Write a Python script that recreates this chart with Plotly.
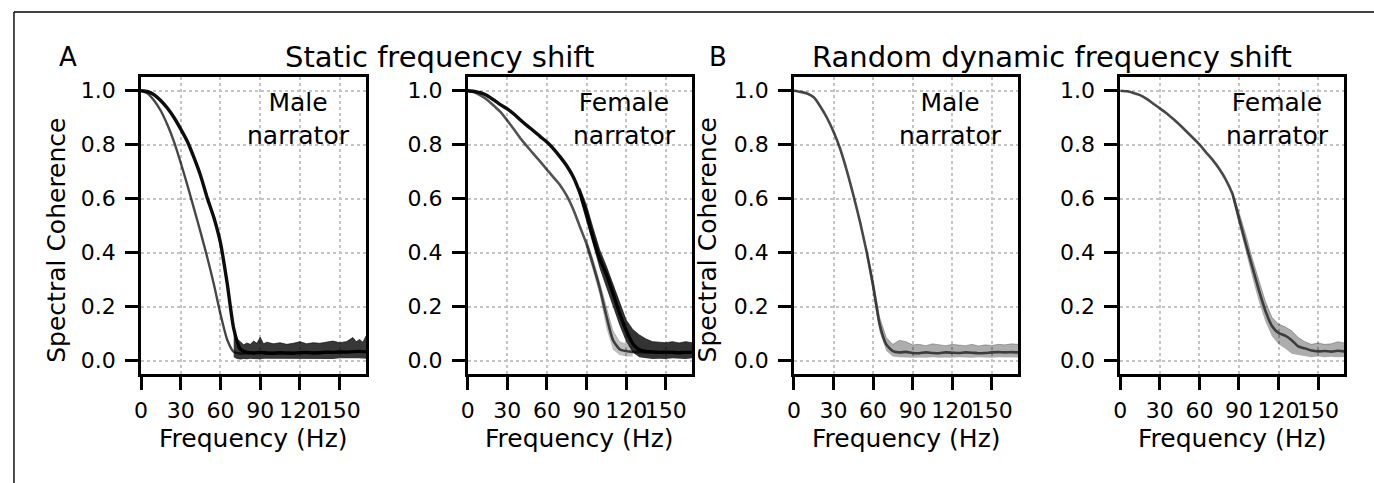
import plotly.graph_objects as go

# ---------------- data ----------------
freq = [0, 5, 10, 15, 20, 25, 30, 35, 40, 45, 50, 55, 60, 65, 70, 75, 80, 85,
        90, 95, 100, 105, 110, 115, 120, 125, 130, 135, 140, 145, 150, 155, 160, 165, 170]

# Panel A, male narrator (static shift): two bundles of curves
static_male_upper = [1.000, 0.997, 0.985, 0.963, 0.935, 0.900, 0.858, 0.812, 0.752, 0.685, 0.603, 0.530,
                     0.436, 0.288, 0.118, 0.042, 0.030, 0.028, 0.030, 0.028, 0.027, 0.029, 0.028, 0.027,
                     0.029, 0.030, 0.028, 0.029, 0.031, 0.030, 0.032, 0.031, 0.033, 0.034, 0.033]
static_male_lower = [1.000, 0.990, 0.963, 0.925, 0.873, 0.810, 0.733, 0.650, 0.563, 0.475, 0.383, 0.283,
                     0.172, 0.078, 0.032, 0.026, 0.027, 0.028, 0.029, 0.027, 0.028, 0.028, 0.027, 0.028,
                     0.029, 0.028, 0.029, 0.030, 0.029, 0.031, 0.030, 0.032, 0.032, 0.033, 0.032]
static_male_band_f = [70, 72.5, 75, 77.5, 80, 82.5, 85, 87.5, 90, 92.5, 95, 100, 105, 110, 115, 120, 125,
                      130, 135, 140, 145, 150, 155, 160, 162.5, 165, 167.5, 170]
static_male_band_hi = [0.110, 0.080, 0.070, 0.058, 0.065, 0.060, 0.072, 0.064, 0.086, 0.062, 0.068, 0.062,
                       0.066, 0.060, 0.064, 0.070, 0.062, 0.066, 0.064, 0.068, 0.072, 0.066, 0.070, 0.085,
                       0.070, 0.078, 0.068, 0.092]
static_male_band_lo = [0.012, 0.006, 0.004, 0.006, 0.005, 0.007, 0.006, 0.005, 0.005, 0.007, 0.007, 0.006,
                       0.005, 0.007, 0.006, 0.006, 0.007, 0.005, 0.006, 0.007, 0.006, 0.008, 0.007, 0.006,
                       0.008, 0.008, 0.007, 0.007]

# Panel A, female narrator (static shift)
static_female_upper = [1.000, 0.998, 0.992, 0.982, 0.965, 0.948, 0.933, 0.914, 0.892, 0.871, 0.851, 0.830,
                       0.810, 0.785, 0.755, 0.722, 0.680, 0.620, 0.545, 0.455, 0.378, 0.320, 0.250, 0.176,
                       0.112, 0.062, 0.040, 0.034, 0.032, 0.030, 0.031, 0.030, 0.029, 0.030, 0.030]
static_female_lower = [1.000, 0.994, 0.982, 0.966, 0.944, 0.921, 0.890, 0.857, 0.823, 0.794, 0.765, 0.737,
                       0.708, 0.679, 0.650, 0.611, 0.560, 0.496, 0.432, 0.354, 0.268, 0.166, 0.076, 0.042,
                       0.035, 0.032, 0.031, 0.030, 0.031, 0.029, 0.030, 0.031, 0.030, 0.029, 0.031]
static_female_band_f = [85, 90, 95, 100, 105, 110, 115, 120, 125, 130, 135, 140, 145, 150, 155, 160, 165, 170]
static_female_band_hi = [0.640, 0.575, 0.490, 0.410, 0.350, 0.285, 0.215, 0.150, 0.115, 0.095, 0.080, 0.070,
                         0.068, 0.066, 0.070, 0.065, 0.070, 0.066]
static_female_band_lo = [0.600, 0.510, 0.420, 0.340, 0.270, 0.200, 0.130, 0.070, 0.030, 0.012, 0.008, 0.006,
                         0.007, 0.006, 0.008, 0.007, 0.006, 0.008]
static_female_lowband_f = [90, 95, 100, 105, 110, 115, 120, 125]
static_female_lowband_hi = [0.450, 0.375, 0.290, 0.195, 0.110, 0.070, 0.060, 0.050]
static_female_lowband_lo = [0.410, 0.330, 0.240, 0.120, 0.040, 0.020, 0.015, 0.015]

# Panel B, male narrator (random dynamic shift)
dynamic_male = [1.000, 0.996, 0.990, 0.976, 0.942, 0.900, 0.848, 0.785, 0.705, 0.614, 0.516, 0.405,
                0.278, 0.133, 0.060, 0.035, 0.030, 0.032, 0.028, 0.027, 0.030, 0.028, 0.027, 0.030,
                0.029, 0.028, 0.030, 0.029, 0.027, 0.028, 0.030, 0.031, 0.030, 0.031, 0.030]
dynamic_male_band_f = [55, 60, 65, 70, 75, 80, 85, 90, 95, 100, 105, 110, 115, 120, 125, 130, 135, 140,
                       145, 150, 155, 160, 165, 170]
dynamic_male_band_hi = [0.420, 0.300, 0.160, 0.085, 0.060, 0.075, 0.070, 0.058, 0.060, 0.055, 0.062, 0.058,
                        0.055, 0.060, 0.057, 0.055, 0.060, 0.054, 0.058, 0.056, 0.060, 0.058, 0.062, 0.060]
dynamic_male_band_lo = [0.390, 0.255, 0.105, 0.035, 0.015, 0.012, 0.010, 0.010, 0.011, 0.010, 0.012, 0.010,
                        0.011, 0.010, 0.012, 0.011, 0.010, 0.012, 0.011, 0.010, 0.012, 0.011, 0.012, 0.011]

# Panel B, female narrator (random dynamic shift)
dynamic_female = [1.000, 0.998, 0.992, 0.984, 0.970, 0.952, 0.935, 0.917, 0.896, 0.874, 0.850, 0.826,
                  0.801, 0.772, 0.744, 0.711, 0.671, 0.618, 0.527, 0.436, 0.349, 0.263, 0.185, 0.128,
                  0.102, 0.092, 0.075, 0.052, 0.045, 0.037, 0.034, 0.035, 0.033, 0.036, 0.034]
dynamic_female_band_f = [85, 90, 95, 100, 105, 110, 115, 120, 125, 130, 135, 140, 145, 150, 155, 160, 165, 170]
dynamic_female_band_hi = [0.630, 0.550, 0.470, 0.380, 0.295, 0.220, 0.160, 0.135, 0.125, 0.110, 0.085, 0.070,
                          0.060, 0.065, 0.060, 0.062, 0.070, 0.065]
dynamic_female_band_lo = [0.600, 0.500, 0.400, 0.310, 0.220, 0.145, 0.090, 0.060, 0.045, 0.025, 0.020, 0.015,
                          0.012, 0.015, 0.012, 0.014, 0.012, 0.013]

x_ticks = [0, 30, 60, 90, 120, 150]
y_ticks = [0.0, 0.2, 0.4, 0.6, 0.8, 1.0]
y_tick_text = ["0.0", "0.2", "0.4", "0.6", "0.8", "1.0"]
panel_notes = ["Male<br>narrator", "Female<br>narrator", "Male<br>narrator", "Female<br>narrator"]
group_titles = ["Static frequency shift", "Random dynamic frequency shift"]
panel_letters = ["A", "B"]
x_title = "Frequency (Hz)"
y_title = "Spectral Coherence"

# ---------------- figure ----------------
W, H = 1374, 483
FONT = "DejaVu Sans"

def px(x):
    return x / W

def py(y):
    return 1 - y / H

fig = go.Figure()

def band(f, lo, hi, ax, color):
    xa, ya = ax
    fig.add_trace(go.Scatter(x=f, y=lo, mode="lines", line=dict(width=0, color=color),
                             xaxis=xa, yaxis=ya, hoverinfo="skip", showlegend=False))
    fig.add_trace(go.Scatter(x=f, y=hi, mode="lines", line=dict(width=0.8, color=color),
                             fill="tonexty", fillcolor=color,
                             xaxis=xa, yaxis=ya, hoverinfo="skip", showlegend=False))

def curve(y, ax, color, width):
    xa, ya = ax
    fig.add_trace(go.Scatter(x=freq, y=y, mode="lines",
                             line=dict(color=color, width=width, shape="spline", smoothing=0.6),
                             xaxis=xa, yaxis=ya, hoverinfo="skip", showlegend=False))

ax1, ax2, ax3, ax4 = ("x", "y"), ("x2", "y2"), ("x3", "y3"), ("x4", "y4")

# Panel 1
band(static_male_band_f, static_male_band_lo, static_male_band_hi, ax1, "rgba(0,0,0,0.78)")
curve(static_male_lower, ax1, "rgba(0,0,0,0.72)", 2.4)
curve(static_male_upper, ax1, "rgba(0,0,0,0.95)", 3.4)

# Panel 2
band(static_female_lowband_f, static_female_lowband_lo, static_female_lowband_hi, ax2, "rgba(0,0,0,0.25)")
band(static_female_band_f, static_female_band_lo, static_female_band_hi, ax2, "rgba(0,0,0,0.8)")
curve(static_female_lower, ax2, "rgba(0,0,0,0.68)", 2.6)
curve(static_female_upper, ax2, "rgba(0,0,0,0.95)", 3.4)

# Panel 3
band(dynamic_male_band_f, dynamic_male_band_lo, dynamic_male_band_hi, ax3, "rgba(0,0,0,0.32)")
curve(dynamic_male, ax3, "rgba(40,40,40,0.85)", 2.6)

# Panel 4
band(dynamic_female_band_f, dynamic_female_band_lo, dynamic_female_band_hi, ax4, "rgba(0,0,0,0.32)")
curve(dynamic_female, ax4, "rgba(40,40,40,0.85)", 2.6)

# axes
panel_px = [(134.7, 361.0), (463.0, 688.7), (791.0, 1016.3), (1119.0, 1344.3)]
top_px, bottom_px = 77.3, 374.0

axis_common = dict(showline=True, linecolor="black", linewidth=2.6, mirror=True,
                   ticks="outside", ticklen=13, tickwidth=2.6, tickcolor="black",
                   showgrid=True, gridcolor="#c4c4c4", griddash="dot", gridwidth=1.5,
                   zeroline=False, tickfont=dict(family=FONT, size=22, color="black"),
                   fixedrange=True)

layout_axes = {}
for i, (l, r) in enumerate(panel_px):
    n = "" if i == 0 else str(i + 1)
    layout_axes["xaxis" + n] = dict(axis_common, domain=[px(l), px(r)], range=[0, 170],
                                    tickvals=x_ticks, tickangle=0, ticklabelstandoff=2,
                                    anchor="y" + n)
    layout_axes["yaxis" + n] = dict(axis_common, domain=[py(bottom_px), py(top_px)],
                                    range=[-0.05, 1.05], tickvals=y_ticks, ticktext=y_tick_text,
                                    ticklabelstandoff=5, anchor="x" + n)

fig.update_layout(width=W, height=H, margin=dict(l=0, r=0, t=0, b=0),
                  paper_bgcolor="white", plot_bgcolor="white", showlegend=False,
                  font=dict(family=FONT, color="black"), **layout_axes)

annotations = []
# panel notes
for i, txt in enumerate(panel_notes):
    n = "" if i == 0 else str(i + 1)
    annotations.append(dict(text=txt, xref="x" + n + " domain", yref="y" + n + " domain",
                            x=1 - 14 / 226, y=0.972, xanchor="right", yanchor="top",
                            align="center", showarrow=False,
                            font=dict(family=FONT, size=25, color="black")))
# x-axis titles
for (l, r) in panel_px:
    annotations.append(dict(text=x_title, xref="paper", yref="paper", x=px((l + r) / 2), y=py(438),
                            xanchor="center", yanchor="middle", showarrow=False,
                            font=dict(family=FONT, size=25, color="black")))
# y-axis titles
for xc in (49, 704):
    annotations.append(dict(text=y_title, xref="paper", yref="paper", x=px(xc), y=py(240),
                            xanchor="center", yanchor="middle", textangle=-90, showarrow=False,
                            font=dict(family=FONT, size=25, color="black")))
# group titles and letters
for txt, xc in zip(group_titles, (434.7, 1050)):
    annotations.append(dict(text=txt, xref="paper", yref="paper", x=px(xc), y=py(57),
                            xanchor="center", yanchor="middle", showarrow=False,
                            font=dict(family=FONT, size=29, color="black")))
for txt, xc in zip(panel_letters, (61, 715)):
    annotations.append(dict(text=txt, xref="paper", yref="paper", x=px(xc), y=py(57),
                            xanchor="center", yanchor="middle", showarrow=False,
                            font=dict(family=FONT, size=26, color="black")))
fig.update_layout(annotations=annotations)

# figure frame (top and left edges)
fig.add_shape(type="line", xref="paper", yref="paper", x0=px(7), x1=1, y0=py(12), y1=py(12),
              line=dict(color="black", width=1.4))
fig.add_shape(type="line", xref="paper", yref="paper", x0=px(7), x1=px(7), y0=py(12), y1=0,
              line=dict(color="black", width=1.4))

fig.write_html("out.html")
